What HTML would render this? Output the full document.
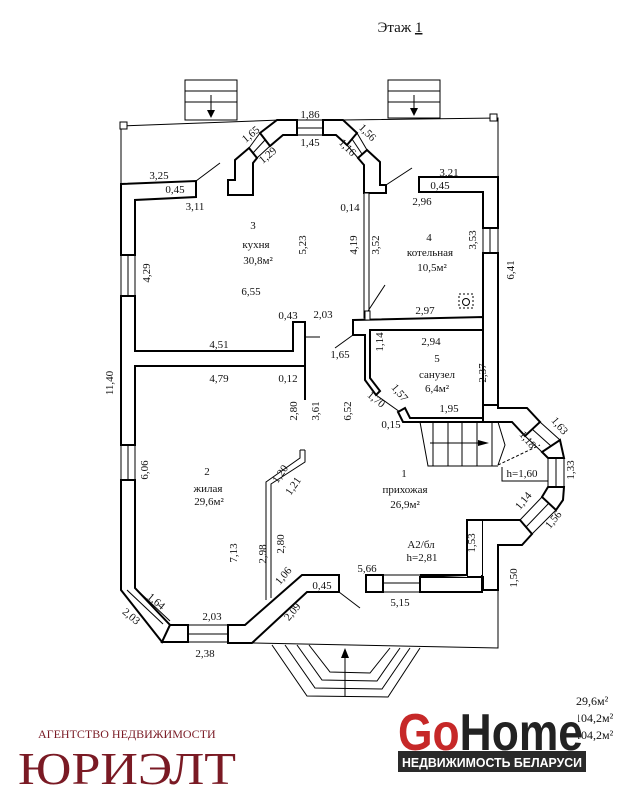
<!DOCTYPE html>
<html><head><meta charset="utf-8"><style>
html,body{margin:0;padding:0;background:#fff;width:633px;height:800px;overflow:hidden}
svg{display:block}
text{font-family:"Liberation Serif",serif;fill:#111}
</style></head><body>
<svg width="633" height="800" viewBox="0 0 633 800" xmlns="http://www.w3.org/2000/svg">
<g fill="#fff" stroke="#000" stroke-width="2" stroke-linejoin="miter">
<polyline points="121,184 121,126 280,120" fill="none" stroke-width="1"/>
<polyline points="343,120 498,118 498,177" fill="none" stroke-width="1"/>
<rect x="120" y="122" width="7" height="7" stroke-width="1"/>
<rect x="490" y="114" width="7" height="7" stroke-width="1"/>
<g stroke-width="1" fill="none">
<rect x="185" y="80" width="52" height="40"/><line x1="185" y1="91" x2="237" y2="91"/><line x1="185" y1="102" x2="237" y2="102"/>
<line x1="211" y1="95" x2="211" y2="115"/>
<rect x="388" y="80" width="52" height="38"/><line x1="388" y1="91" x2="440" y2="91"/><line x1="388" y1="102" x2="440" y2="102"/>
<line x1="414" y1="95" x2="414" y2="115"/>
</g>
<polygon points="207,110 215,110 211,118" fill="#000" stroke="none"/>
<polygon points="410,108 418,108 414,116" fill="#000" stroke="none"/>
<polygon points="121,184 196,181 196,197 135,200 135,255 121,255"/>
<polygon points="121,296 135,296 135,351 293,351 293,322 305,322 305,366 135,366 135,445 121,445"/>
<polygon points="121,480 135,480 135,588 170,625 162,642 121,590"/>
<g stroke-width="1"><line x1="121" y1="255" x2="121" y2="296"/><line x1="135" y1="255" x2="135" y2="296"/><line x1="128" y1="255" x2="128" y2="296"/>
<line x1="121" y1="445" x2="121" y2="480"/><line x1="135" y1="445" x2="135" y2="480"/><line x1="128" y1="445" x2="128" y2="480"/></g>
<polygon points="162,642 170,625 188,625 188,642"/>
<g stroke-width="1"><line x1="188" y1="625" x2="228" y2="625"/><line x1="188" y1="642" x2="228" y2="642"/><line x1="188" y1="634" x2="228" y2="634"/>
<line x1="127" y1="590" x2="163" y2="624"/><line x1="135" y1="588" x2="170" y2="621"/></g>
<polygon points="228,625 245,625 302,575 339,575 339,592 307,592 252,643 228,643"/>
<line x1="339" y1="592" x2="360" y2="608" stroke-width="1"/>
<polyline points="266,600 266,482 300,458 300,450" fill="none" stroke-width="1"/>
<polyline points="271,598 271,484 305,462 305,450" fill="none" stroke-width="1"/>
<line x1="300" y1="450" x2="305" y2="450" stroke-width="1"/>
<line x1="305" y1="366" x2="305" y2="400" stroke-width="2"/>
<line x1="305" y1="337" x2="320" y2="337" stroke-width="1"/>
<polygon points="277,120 297,120 297,135 283,135 270,146 260,133"/>
<polygon points="249,148 257,158 253,163 253,195 228,195 228,180 235,180 235,160"/>
<g stroke-width="1"><line x1="260" y1="133" x2="249" y2="148"/><line x1="270" y1="146" x2="257" y2="158"/><line x1="265" y1="140" x2="253" y2="153"/>
<line x1="297" y1="120" x2="323" y2="120"/><line x1="297" y1="135" x2="323" y2="135"/><line x1="297" y1="128" x2="323" y2="128"/>
<line x1="357" y1="133" x2="367" y2="150"/><line x1="347" y1="145" x2="358" y2="158"/><line x1="352" y1="139" x2="362" y2="154"/></g>
<polygon points="323,120 343,120 357,133 347,145 336,135 323,135"/>
<polygon points="367,150 380,162 380,185 386,185 386,193 364,193 364,165 358,158"/>
<line x1="196" y1="181" x2="220" y2="163" stroke-width="1"/>
<line x1="386" y1="185" x2="412" y2="168" stroke-width="1"/>
<polygon points="364,193 369,193 369,318 364,318" stroke-width="1"/>
<polygon points="419,177 498,177 498,228 483,228 483,192 419,192"/>
<polygon points="483,253 498,253 498,405 483,405"/>
<g stroke-width="1"><line x1="483" y1="228" x2="483" y2="253"/><line x1="498" y1="228" x2="498" y2="253"/><line x1="490" y1="228" x2="490" y2="253"/></g>
<polygon points="353,320 483,317 483,330 370,330 370,378 380,391 376,395 365,380 365,335 353,335"/>
<rect x="365" y="311" width="5" height="9" stroke-width="1"/>
<line x1="368" y1="311" x2="385" y2="285" stroke-width="1"/>
<line x1="353" y1="335" x2="335" y2="348" stroke-width="1"/>
<line x1="376" y1="395" x2="400" y2="412" stroke-width="1"/>
<polygon points="398,412 405,408 410,418 483,418 483,422 403,422"/>
<g stroke-width="1" fill="none">
<polyline points="420,422 428,466 498,466"/>
<line x1="433" y1="422" x2="433" y2="466"/><line x1="448" y1="422" x2="448" y2="466"/><line x1="462" y1="422" x2="462" y2="466"/>
<line x1="477" y1="422" x2="477" y2="466"/><line x1="492" y1="422" x2="492" y2="466"/>
<line x1="430" y1="443" x2="485" y2="443"/>
<polyline points="498,422 505,445 498,465" /><line x1="498" y1="465" x2="540" y2="445" stroke-dasharray="3,2"/>
<polyline points="502,467 502,481 548,481"/>
</g>
<polygon points="478,440 489,443 478,446" fill="#000" stroke="none"/>
<polygon points="483,405 498,405 498,408 527,408 540,422 525,436 512,422 483,422"/>
<g stroke-width="1"><line x1="540" y1="422" x2="560" y2="440"/><line x1="525" y1="436" x2="542" y2="452"/><line x1="532" y1="429" x2="551" y2="446"/></g>
<polygon points="560,440 564,458 548,458 542,452"/>
<g stroke-width="1"><line x1="548" y1="458" x2="548" y2="487"/><line x1="564" y1="458" x2="564" y2="487"/><line x1="556" y1="458" x2="556" y2="487"/></g>
<polygon points="548,487 564,487 563,500 556,510 542,497"/>
<g stroke-width="1"><line x1="542" y1="497" x2="520" y2="520"/><line x1="556" y1="510" x2="532" y2="534"/><line x1="549" y1="503" x2="526" y2="527"/></g>
<polygon points="520,520 532,534 522,545 498,545 498,590 483,590 483,577 420,577 420,592 467,592 482,592 482,520"/>
<rect x="366" y="575" width="17" height="17"/>
<g stroke-width="1"><line x1="383" y1="575" x2="420" y2="575"/><line x1="383" y1="592" x2="420" y2="592"/><line x1="383" y1="583" x2="420" y2="583"/></g>
<polygon points="420,575 482,575 482,520 467,520 467,577" stroke="none"/>
<polyline points="420,575 467,575 467,520 482,520" fill="none"/>
<polyline points="420,592 483,592" fill="none"/>
<g stroke-width="1" fill="none">
<polyline points="252,643 498,648 498,590"/>
<polyline points="272,645 307,696 388,697 420,648"/>
<polyline points="285,645 315,688 382,689 410,648"/>
<polyline points="297,645 322,680 377,681 400,648"/>
<polyline points="309,645 330,672 370,673 390,648"/>
<line x1="345" y1="696" x2="345" y2="652"/>
</g>
<polygon points="341,658 349,658 345,648" fill="#000" stroke="none"/>
<rect x="459" y="294" width="14" height="14" stroke-width="1" stroke-dasharray="2,2"/>
<circle cx="466" cy="302" r="3.5" fill="none" stroke-width="1"/>
</g>

<g font-size="11" text-anchor="middle">
<text x="400" y="32" font-size="15">Этаж <tspan text-decoration="underline">1</tspan></text>
<text x="310" y="118">1,86</text><text x="310" y="146">1,45</text>
<text x="253" y="137" transform="rotate(-40 253 137)">1,65</text>
<text x="270" y="158" transform="rotate(-40 270 158)">1,29</text>
<text x="365" y="135" transform="rotate(45 365 135)">1,56</text>
<text x="345" y="150" transform="rotate(45 345 150)">1,16</text>
<text x="159" y="179">3,25</text><text x="175" y="193">0,45</text><text x="195" y="210">3,11</text>
<text x="449" y="176">3,21</text><text x="440" y="189">0,45</text><text x="422" y="205">2,96</text>
<text x="253" y="229">3</text><text x="256" y="248">кухня</text><text x="258" y="264">30,8м²</text>
<text x="251" y="295">6,55</text>
<text x="306" y="245" transform="rotate(-90 306 245)">5,23</text>
<text x="357" y="245" transform="rotate(-90 357 245)">4,19</text>
<text x="379" y="245" transform="rotate(-90 379 245)">3,52</text>
<text x="350" y="211">0,14</text>
<text x="150" y="273" transform="rotate(-90 150 273)">4,29</text>
<text x="429" y="241">4</text><text x="430" y="256">котельная</text><text x="432" y="271">10,5м²</text>
<text x="476" y="240" transform="rotate(-90 476 240)">3,53</text>
<text x="514" y="270" transform="rotate(-90 514 270)">6,41</text>
<text x="288" y="319">0,43</text><text x="323" y="318">2,03</text>
<text x="425" y="314">2,97</text>
<text x="219" y="348">4,51</text><text x="219" y="382">4,79</text>
<text x="288" y="382">0,12</text>
<text x="113" y="383" transform="rotate(-90 113 383)">11,40</text>
<text x="340" y="358">1,65</text>
<text x="383" y="342" transform="rotate(-90 383 342)">1,14</text>
<text x="431" y="345">2,94</text>
<text x="437" y="362">5</text><text x="437" y="378">санузел</text><text x="437" y="392">6,4м²</text>
<text x="486" y="373" transform="rotate(-90 486 373)">2,37</text>
<text x="397" y="395" transform="rotate(50 397 395)">1,57</text>
<text x="374" y="402" transform="rotate(40 374 402)">1,70</text>
<text x="449" y="412">1,95</text><text x="391" y="428">0,15</text>
<text x="297" y="411" transform="rotate(-90 297 411)">2,80</text>
<text x="319" y="411" transform="rotate(-90 319 411)">3,61</text>
<text x="351" y="411" transform="rotate(-90 351 411)">6,52</text>
<text x="148" y="470" transform="rotate(-90 148 470)">6,06</text>
<text x="207" y="475">2</text><text x="208" y="492">жилая</text><text x="209" y="505">29,6м²</text>
<text x="283" y="476" transform="rotate(-55 283 476)">1,20</text>
<text x="296" y="488" transform="rotate(-55 296 488)">1,21</text>
<text x="404" y="477">1</text><text x="405" y="493">прихожая</text><text x="405" y="508">26,9м²</text>
<text x="557" y="428" transform="rotate(50 557 428)">1,63</text>
<text x="525" y="442" transform="rotate(50 525 442)">1,18</text>
<text x="522" y="477">h=1,60</text>
<text x="574" y="470" transform="rotate(-90 574 470)">1,33</text>
<text x="526" y="503" transform="rotate(-50 526 503)">1,14</text>
<text x="556" y="522" transform="rotate(-50 556 522)">1,56</text>
<text x="475" y="543" transform="rotate(-90 475 543)">1,53</text>
<text x="517" y="578" transform="rotate(-90 517 578)">1,50</text>
<text x="421" y="548">A2/бл</text><text x="422" y="561">h=2,81</text>
<text x="237" y="553" transform="rotate(-90 237 553)">7,13</text>
<text x="266" y="554" transform="rotate(-90 266 554)">2,98</text>
<text x="284" y="544" transform="rotate(-90 284 544)">2,80</text>
<text x="286" y="578" transform="rotate(-50 286 578)">1,06</text>
<text x="322" y="589">0,45</text>
<text x="367" y="572">5,66</text><text x="400" y="606">5,15</text>
<text x="295" y="614" transform="rotate(-50 295 614)">2,09</text>
<text x="154" y="604" transform="rotate(40 154 604)">1,64</text>
<text x="129" y="619" transform="rotate(40 129 619)">2,03</text>
<text x="212" y="620">2,03</text><text x="205" y="657">2,38</text>
</g>
<g font-size="12" text-anchor="start">
<text x="576" y="705">29,6м²</text><text x="575" y="722">104,2м²</text><text x="575" y="739">104,2м²</text>
</g>
<text x="38" y="738" font-size="12" style="fill:#7a1a24">АГЕНТСТВО НЕДВИЖИМОСТИ</text>
<text x="18" y="784" font-size="46" style="fill:#7a1a24" textLength="218" lengthAdjust="spacingAndGlyphs">ЮРИЭЛТ</text>
<rect x="398" y="705" width="180" height="42" fill="#fff"/>
<text x="398" y="750" font-size="52" font-weight="bold" style="font-family:'Liberation Sans',sans-serif;fill:#c62828" textLength="185" lengthAdjust="spacingAndGlyphs">Go<tspan style="fill:#222">Home</tspan></text>
<rect x="398" y="751" width="188" height="21" fill="#2a2a2a"/>
<text x="492" y="767" font-size="13" font-weight="bold" text-anchor="middle" style="font-family:'Liberation Sans',sans-serif;fill:#fff" textLength="180" lengthAdjust="spacingAndGlyphs">НЕДВИЖИМОСТЬ БЕЛАРУСИ</text>
</svg>
</body></html>
